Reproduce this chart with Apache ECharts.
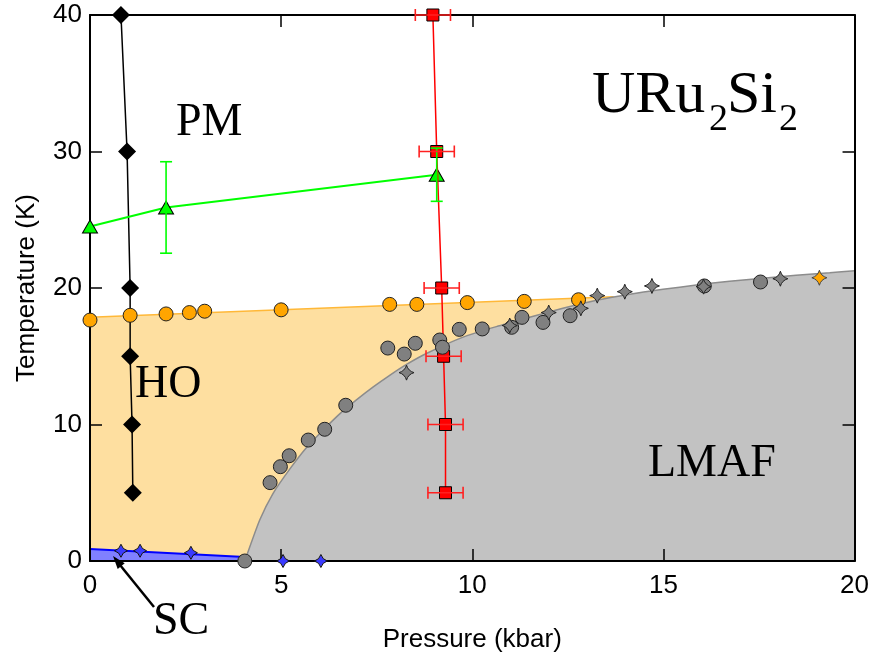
<!DOCTYPE html>
<html><head><meta charset="utf-8">
<script src="https://cdn.jsdelivr.net/npm/echarts@6/dist/echarts.min.js"></script>
<style>html,body{margin:0;padding:0;background:#fff}#c{width:872px;height:665px}</style>
</head><body><div id="c"></div>
<script>
// ---- data ----
const xTicks = [0, 5, 10, 15, 20];
const yTicks = [0, 10, 20, 30, 40];

const blackDiamonds = [[0.81,40],[0.97,30],[1.05,20],[1.05,15],[1.1,10],[1.12,5]];
const redSquares = [[8.97,40],[9.07,30],[9.2,20],[9.25,15],[9.3,10],[9.3,5]];
const redXErr = [0.46,0.46,0.46,0.46,0.46,0.46];
const greenTriangles = [[0,24.5],[1.99,25.9],[9.07,28.3]];
const greenYErr = [0,3.35,1.95];

const orangeCircles = [[0,17.65],[1.05,18.0],[1.99,18.1],[2.6,18.2],[3.0,18.3],[5.0,18.4],
  [7.84,18.8],[8.55,18.8],[9.87,18.93],[11.36,19.02],[12.78,19.14]];
const orangeStars = [[19.08,20.75]];
const grayCircles = [[4.05,0],[4.71,5.74],[4.98,6.91],[5.21,7.71],[5.71,8.86],[6.14,9.65],[6.69,11.41],
  [7.79,15.6],[8.22,15.16],[8.51,15.95],[9.15,16.19],[9.22,15.66],[9.66,16.97],[10.26,17.0],
  [11.03,17.12],[11.3,17.85],[11.85,17.48],[12.56,17.97],[16.07,20.15],[17.54,20.44]];
const grayStars = [[8.28,13.8],[10.98,17.25],[12.0,18.2],[12.84,18.51],[13.27,19.44],[13.99,19.73],
  [14.7,20.15],[16.05,20.1],[18.06,20.68]];
const blueStars = [[0.81,0.75],[1.31,0.75],[2.64,0.6],[5.05,0],[6.04,0]];

const hoBoundary = [[0,17.85],[13.7,19.35]];
const scBoundary = [[0,0.88],[4.05,0.3]];
const lmafBoundary = [[4.05,0],[4.44,3.0],[4.79,4.96],[5.23,6.75],[5.66,8.3],[6.10,9.6],[6.54,10.8],
  [6.97,11.8],[7.41,12.75],[7.84,13.6],[8.28,14.4],[8.8,15.2],[9.76,16.4],[10.63,17.17],
  [11.5,17.85],[12.37,18.51],[13.25,19.1],[14.12,19.54],[14.99,19.9],[15.86,20.22],[16.73,20.49],
  [17.6,20.71],[18.47,20.93],[19.35,21.12],[20,21.27]];

// ---- chart ----
const STAR = 'path://M0,-10 Q2.2,-2.2 10,0 Q2.2,2.2 0,10 Q-2.2,2.2 -10,0 Q-2.2,-2.2 0,-10 Z';
const SANS = 'Liberation Sans, Arial, sans-serif';
const SERIF = 'Liberation Serif, Times New Roman, serif';

function errBars(points, errs, horizontal, color) {
  return {
    type: 'custom', z: 6, silent: true, clip: false,
    data: points.map((p, i) => [p[0], p[1], errs[i]]),
    encode: {x: 0, y: 1},
    renderItem: function (params, api) {
      const x = api.value(0), y = api.value(1), e = api.value(2);
      if (!e) return null;
      const cap = 6;
      let a, b, children = [];
      const st = {stroke: color, lineWidth: 1.6};
      if (horizontal) {
        a = api.coord([x - e, y]); b = api.coord([x + e, y]);
        children.push({type:'line', shape:{x1:a[0],y1:a[1],x2:b[0],y2:b[1]}, style:st});
        children.push({type:'line', shape:{x1:a[0],y1:a[1]-cap,x2:a[0],y2:a[1]+cap}, style:st});
        children.push({type:'line', shape:{x1:b[0],y1:b[1]-cap,x2:b[0],y2:b[1]+cap}, style:st});
      } else {
        a = api.coord([x, y - e]); b = api.coord([x, y + e]);
        children.push({type:'line', shape:{x1:a[0],y1:a[1],x2:b[0],y2:b[1]}, style:st});
        children.push({type:'line', shape:{x1:a[0]-cap,y1:a[1],x2:a[0]+cap,y2:a[1]}, style:st});
        children.push({type:'line', shape:{x1:b[0]-cap,y1:b[1],x2:b[0]+cap,y2:b[1]}, style:st});
      }
      return {type: 'group', children: children};
    }
  };
}

const axisCommon = {
  type: 'value', z: 3,
  axisLine: {show: true, onZero: false, lineStyle: {color: '#000', width: 2}},
  axisTick: {show: true, inside: true, length: 12, lineStyle: {color: '#000', width: 1.5}},
  splitLine: {show: false}
};

const option = {
  animation: false,
  backgroundColor: '#fff',
  grid: {left: 90, right: 17, top: 15, bottom: 104},
  xAxis: [
    Object.assign({}, axisCommon, {
      position: 'bottom', min: xTicks[0], max: xTicks[xTicks.length-1], interval: xTicks[1]-xTicks[0],
      name: 'Pressure (kbar)', nameLocation: 'middle', nameGap: 66,
      nameTextStyle: {fontFamily: SANS, fontSize: 26, color: '#000'},
      axisLabel: {fontFamily: SANS, fontSize: 26, color: '#000', margin: 12}
    }),
    Object.assign({}, axisCommon, {
      position: 'top', min: xTicks[0], max: xTicks[xTicks.length-1], interval: xTicks[1]-xTicks[0],
      axisLabel: {show: false}
    })
  ],
  yAxis: [
    Object.assign({}, axisCommon, {
      position: 'left', min: yTicks[0], max: yTicks[yTicks.length-1], interval: yTicks[1]-yTicks[0],
      name: 'Temperature (K)', nameLocation: 'middle', nameGap: 50,
      nameTextStyle: {fontFamily: SANS, fontSize: 26, color: '#000'},
      axisLabel: {fontFamily: SANS, fontSize: 26, color: '#000', margin: 8}
    }),
    Object.assign({}, axisCommon, {
      position: 'right', min: yTicks[0], max: yTicks[yTicks.length-1], interval: yTicks[1]-yTicks[0],
      axisLabel: {show: false}
    })
  ],
  series: [
    {type: 'line', z: 1, data: hoBoundary, symbol: 'none', silent: true,
      lineStyle: {color: '#FFB838', width: 1.5}, areaStyle: {color: '#FEDFA0', opacity: 1}},
    {type: 'line', z: 1, data: lmafBoundary, symbol: 'none', smooth: 0.2, silent: true,
      lineStyle: {color: '#8C8C8C', width: 1.5}, areaStyle: {color: '#C2C2C2', opacity: 1}},
    {type: 'line', z: 1, data: scBoundary, symbol: 'none', silent: true,
      lineStyle: {color: '#0000FF', width: 2}, areaStyle: {color: '#8080FF', opacity: 1}},
    {type: 'line', z: 4, data: blackDiamonds, symbol: 'diamond', symbolSize: 18, clip: false,
      lineStyle: {color: '#000', width: 1.5}, itemStyle: {color: '#000'}},
    {type: 'line', z: 4, data: greenTriangles, symbol: 'triangle', symbolSize: [15, 13], clip: false,
      lineStyle: {color: '#00FF00', width: 2}, itemStyle: {color: '#00FF00', borderColor: '#000', borderWidth: 1}},
    errBars(greenTriangles, greenYErr, false, '#00FF00'),
    {type: 'line', z: 5, data: redSquares, symbol: 'rect', symbolSize: 12, clip: false,
      lineStyle: {color: '#FF0000', width: 1.5}, itemStyle: {color: '#FF0000', borderColor: '#000', borderWidth: 1}},
    errBars(redSquares, redXErr, true, '#FF2020'),
    {type: 'scatter', z: 5, data: orangeCircles, symbol: 'circle', symbolSize: 14, clip: false,
      itemStyle: {color: '#FFA500', borderColor: '#222', borderWidth: 1, opacity: 1}},
    {type: 'scatter', z: 5, data: grayCircles, symbol: 'circle', symbolSize: 14, clip: false,
      itemStyle: {color: '#808080', borderColor: '#222', borderWidth: 1, opacity: 1}},
    {type: 'scatter', z: 5, data: grayStars, symbol: STAR, symbolSize: 15, clip: false,
      itemStyle: {color: '#808080', borderColor: '#222', borderWidth: 1, opacity: 1}},
    {type: 'scatter', z: 5, data: orangeStars, symbol: STAR, symbolSize: 15, clip: false,
      itemStyle: {color: '#FFA500', borderColor: '#444', borderWidth: 1, opacity: 1}},
    {type: 'scatter', z: 5, data: blueStars, symbol: STAR, symbolSize: 13, clip: false,
      itemStyle: {color: '#3A3AFF', borderColor: '#111', borderWidth: 1, opacity: 1}}
  ],
  graphic: [
    {type: 'text', left: 176, top: 100, z: 10, style: {text: 'PM', font: '46px ' + SERIF, fill: '#000'}},
    {type: 'text', left: 135, top: 362, z: 10, style: {text: 'HO', font: '46px ' + SERIF, fill: '#000'}},
    {type: 'text', left: 648, top: 441, z: 10, style: {text: 'LMAF', font: '46px ' + SERIF, fill: '#000'}},
    {type: 'text', left: 153, top: 599, z: 10, style: {text: 'SC', font: '46px ' + SERIF, fill: '#000'}},
    {type: 'text', left: 592, top: 66, z: 10, style: {text: 'URu', font: '60px ' + SERIF, fill: '#000'}},
    {type: 'text', left: 709, top: 101, z: 10, style: {text: '2', font: '38px ' + SERIF, fill: '#000'}},
    {type: 'text', left: 727, top: 66, z: 10, style: {text: 'Si', font: '60px ' + SERIF, fill: '#000'}},
    {type: 'text', left: 779, top: 101, z: 10, style: {text: '2', font: '38px ' + SERIF, fill: '#000'}},
    {type: 'line', z: 10, shape: {x1: 154, y1: 607, x2: 120, y2: 565}, style: {stroke: '#000', lineWidth: 2.5}},
    {type: 'polygon', z: 10, shape: {points: [[113,556],[124.7,563.3],[117.7,568.9]]}, style: {fill: '#000'}}
  ]
};

const chart = echarts.init(document.getElementById('c'), null, {renderer: 'canvas'});
chart.setOption(option);
</script>
</body></html>
